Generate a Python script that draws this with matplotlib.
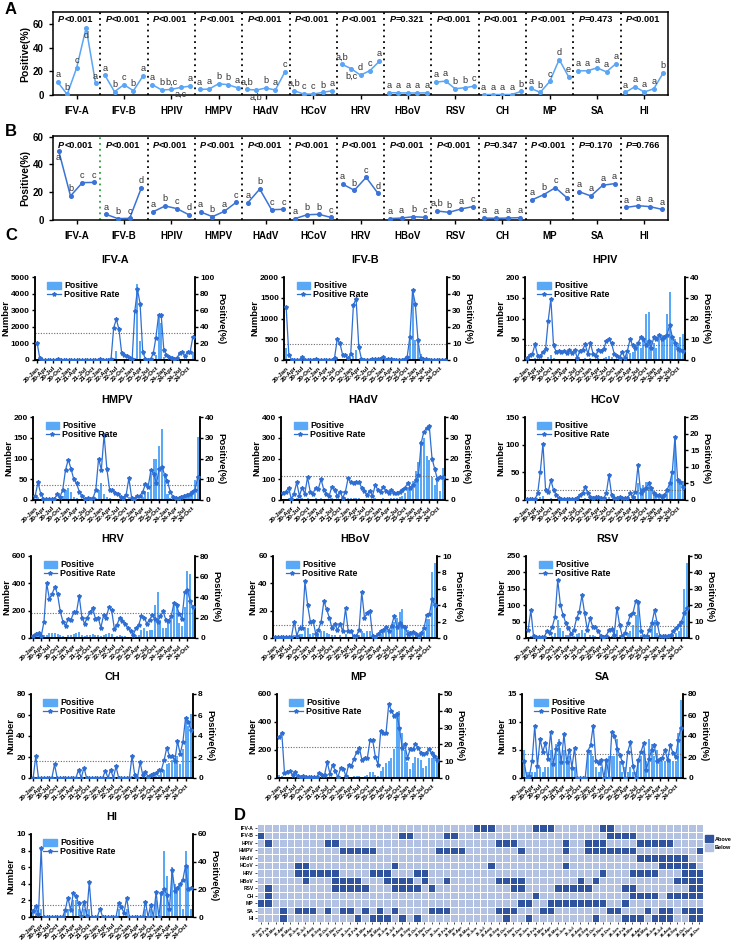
import numpy as np
import matplotlib.pyplot as plt
from matplotlib.colors import ListedColormap
from matplotlib.patches import Patch
from matplotlib.lines import Line2D

# ---------------------------------------------------------------- data
pathogens = ['IFV-A', 'IFV-B', 'HPIV', 'HMPV', 'HAdV', 'HCoV', 'HRV',
             'HBoV', 'RSV', 'CH', 'MP', 'SA', 'HI']

# Panel A (5 groups per pathogen)
vals_A = [[10.9, 0.5, 22.9, 56.7, 9.8], [16.5, 2.8, 8.7, 3.6, 15.9],
          [8.7, 4.2, 4.7, 6.4, 7.5], [4.7, 5.0, 9.5, 8.7, 6.1],
          [4.7, 4.2, 5.9, 4.2, 19.3], [3.6, 0.8, 0.8, 2.2, 3.6],
          [26.0, 22.3, 16.7, 20.6, 28.5], [2.0, 1.8, 1.7, 1.7, 1.8],
          [10.9, 11.7, 5.3, 6.1, 7.5], [0.4, 0.4, 0.4, 0.4, 3.1],
          [5.6, 2.2, 11.4, 29.9, 15.3], [20.4, 20.4, 22.9, 19.5, 26.5],
          [2.2, 7.0, 2.5, 5.3, 18.7]]
let_A = [['a', 'b', 'c', 'd', 'a'], ['a', 'b', 'c', 'b', 'a'],
         ['a', 'b', 'b,c', 'a,c', 'a'], ['a', 'a', 'b', 'b', 'a'],
         ['a,b', 'a,b', 'b', 'a', 'c'], ['a,b', 'c', 'c', 'b', 'a'],
         ['a,b', 'b,c', 'd', 'c', 'a'], ['a', 'a', 'a', 'a', 'a'],
         ['a', 'a', 'b', 'b', 'c'], ['a', 'a', 'a', 'a', 'b'],
         ['a', 'b', 'c', 'd', 'e'], ['a', 'a', 'a', 'a', 'a'],
         ['a', 'a', 'a', 'a', 'b']]
p_A = ['<0.001', '<0.001', '<0.001', '<0.001', '<0.001', '<0.001', '<0.001',
       '=0.321', '<0.001', '<0.001', '<0.001', '=0.473', '<0.001']
below_A = [(0, 3), (2, 3), (4, 1), (6, 1)]

# Panel B (4 groups per pathogen)
vals_B = [[49.9, 17.3, 26.9, 27.1], [4.1, 1.0, 1.2, 23.3],
          [6.0, 10.1, 8.2, 3.8], [5.8, 2.4, 6.2, 12.7],
          [12.5, 22.3, 7.4, 7.7], [1.0, 3.8, 4.1, 1.9],
          [25.9, 21.4, 30.7, 19.2], [1.0, 1.4, 2.4, 1.9],
          [6.5, 5.5, 7.9, 9.6], [1.4, 1.2, 1.4, 1.7],
          [14.4, 18.2, 23.3, 15.8], [20.4, 17.3, 25.0, 26.2],
          [9.1, 10.3, 9.6, 7.7]]
let_B = [['a', 'b', 'c', 'c'], ['a', 'b', 'c', 'd'], ['a', 'b', 'c', 'd'],
         ['a', 'b', 'a', 'c'], ['a', 'b', 'c', 'c'], ['a', 'b', 'b', 'c'],
         ['a', 'b', 'c', 'd'], ['a', 'a', 'b', 'c'], ['a,b', 'b', 'a', 'c'],
         ['a', 'a', 'a', 'a'], ['a', 'b', 'c', 'a'], ['a', 'a', 'a', 'a'],
         ['a', 'a', 'a', 'a']]
p_B = ['<0.001', '<0.001', '<0.001', '<0.001', '<0.001', '<0.001', '<0.001',
       '<0.001', '<0.001', '=0.347', '<0.001', '=0.170', '=0.766']
below_B = [(0, 0)]

# Panel C: monthly positives (n) and positive rate (r), Jan 2020 - Dec 2024
n_ifva = [50, 10, 0, 0, 0, 0, 0, 0, 10, 0, 0, 0, 0, 0, 0, 0, 0, 0, 0, 0,
          0, 0, 0, 0, 20, 0, 0, 0, 10, 100, 550, 80, 20, 10, 5, 5, 2, 150, 4550, 1150,
          60, 5, 2, 5, 40, 300, 2700, 2250, 200, 60, 30, 20, 10, 15, 50, 60, 40, 60, 80, 500]
r_ifva = [21, 2, 0.3, 0.3, 0.3, 0.3, 0.3, 0.3, 1, 0.3, 0.3, 0.3, 0.3, 0.3, 0.3, 0.3, 0.3, 0.3, 0.3, 0.3,
          0.3, 0.3, 0.3, 0.3, 1.2, 0.3, 0.3, 0.3, 1, 39, 49, 37, 9, 6, 5, 3, 1, 59, 85, 68,
          10, 1, 0.5, 1, 8, 27, 54, 54, 12, 6, 4, 3, 1, 2, 9, 10, 5, 10, 10, 28]
n_ifvb = [280, 20, 0, 0, 0, 0, 5, 0, 0, 0, 0, 0, 0, 0, 0, 0, 0, 0, 5, 40,
          30, 5, 5, 2, 10, 100, 250, 30, 2, 0, 0, 0, 0, 0, 2, 0, 5, 0, 0, 0,
          0, 0, 0, 0, 2, 20, 550, 1700, 480, 470, 150, 10, 5, 2, 2, 2, 2, 2, 2, 2]
r_ifvb = [32, 3, 0.3, 0.3, 0.3, 0.3, 2, 0.3, 0.3, 0.3, 0.3, 0.8, 0.3, 0.3, 0.3, 0.3, 0.3, 0.3, 1.5, 12.5,
          10, 3, 3, 1, 3.5, 33, 37, 8, 0.5, 0.3, 0.3, 0.3, 0.5, 0.5, 0.5, 0.5, 2, 0.3, 0.5, 0.5,
          0.3, 0.3, 0.3, 0.3, 0.5, 2, 14, 42, 34, 12, 1, 0.5, 0.5, 0.3, 0.3, 0.3, 0.3, 0.3, 0.3, 0.3]
n_hpiv = [2, 3, 3, 5, 2, 2, 3, 3, 8, 12, 5, 3, 3, 3, 3, 2, 3, 2, 3, 1,
          3, 3, 5, 2, 5, 2, 2, 4, 3, 4, 8, 10, 7, 3, 2, 1, 4, 2, 15, 18,
          20, 35, 40, 30, 45, 110, 115, 45, 40, 30, 55, 60, 60, 110, 165, 60, 50, 40, 55, 62]
r_hpiv = [1, 2.5, 3, 7.5, 2, 2, 4, 5.5, 19, 29.5, 7, 4, 4.5, 4, 4.5, 3.5, 5, 3.5, 5, 1,
          4.5, 5, 7.5, 3, 8, 3, 2, 5, 4.5, 5.5, 9, 10, 8, 3, 2, 1, 4, 1, 4.5, 10,
          7, 6, 8, 11, 10, 7, 9, 6, 11, 10, 12, 10, 11, 12, 17, 11, 8, 5.5, 5, 4.5]
n_hmpv = [3, 8, 3, 0, 0, 0, 0, 0, 3, 2, 10, 25, 30, 20, 8, 5, 3, 2, 1, 1,
          1, 1, 5, 25, 40, 15, 8, 4, 3, 3, 2, 1, 1, 2, 8, 1, 1, 3, 3, 8,
          20, 20, 65, 100, 98, 130, 172, 60, 15, 5, 3, 3, 3, 3, 5, 8, 10, 15, 47, 152]
r_hmpv = [2, 8.5, 3, 0.5, 0.5, 0.5, 0.5, 0.5, 3, 1.5, 5, 14.5, 19.5, 15, 10, 8, 4, 2, 0.5, 1,
          0.5, 1, 5, 20, 14.5, 31.5, 15, 5, 5, 3.5, 3, 1.5, 1, 2.5, 10.5, 1, 0.5, 2, 2, 4,
          7.5, 6.5, 14.5, 12.5, 8, 15, 16, 12, 9, 4, 1.5, 1, 1, 1.5, 2, 2.5, 3, 4, 5, 11]
n_hadv = [5, 5, 8, 0, 3, 10, 3, 8, 4, 12, 5, 4, 8, 6, 12, 6, 4, 3, 8, 6,
          3, 5, 2, 5, 12, 10, 9, 10, 10, 7, 5, 3, 5, 2, 8, 6, 5, 8, 6, 5,
          10, 10, 10, 15, 20, 35, 55, 50, 90, 140, 185, 285, 300, 210, 195, 110, 70, 95, 45, 155]
r_hadv = [3.5, 4, 6, 0.5, 3, 8.5, 2, 6, 3, 11, 4, 3, 6, 5.5, 10, 5, 3, 2, 6.5, 5,
          2, 4, 1, 4, 10.5, 8.5, 8, 8.5, 8.5, 6, 4.5, 2.5, 4.5, 2, 7, 5, 4, 6.5, 4.5, 3.5,
          5, 3.5, 3.5, 4, 5, 6, 8, 6, 7, 9.5, 12, 27.5, 33, 34.5, 35.5, 20, 15, 10, 11, 11]
n_hcov = [0, 0, 0, 0, 1, 5, 8, 2, 1, 3, 1, 1, 0, 0, 0, 0, 0, 0, 0, 0,
          1, 1, 3, 1, 1, 0, 1, 1, 0, 0, 1, 5, 1, 0, 0, 1, 0, 0, 0, 2,
          1, 8, 30, 22, 28, 32, 25, 18, 10, 8, 6, 5, 8, 22, 30, 50, 110, 38, 37, 35]
r_hcov = [0.3, 0.3, 0.3, 0.3, 2, 8.5, 17, 3, 2.5, 6, 3, 1.5, 0.5, 0.3, 0.3, 0.3, 0.3, 0.3, 0.3, 0.5,
          1.5, 2, 4, 2, 1, 0.5, 1, 1, 0.5, 0.5, 2, 7.5, 1.5, 0.5, 0.5, 1, 0.5, 0.5, 0.5, 2,
          1, 2.5, 10.5, 2, 3, 3.5, 5, 3.5, 2, 1.5, 1.5, 1, 1.5, 3, 5, 8.5, 19, 6, 5.5, 4]
n_hrv = [10, 15, 20, 10, 20, 25, 40, 35, 38, 30, 25, 15, 10, 20, 25, 30, 35, 45, 25, 15,
         20, 25, 30, 20, 25, 15, 25, 30, 35, 30, 10, 15, 20, 15, 12, 10, 10, 5, 20, 25,
         60, 70, 50, 55, 60, 240, 340, 130, 75, 70, 125, 160, 250, 255, 110, 90, 225, 490, 470, 240]
r_hrv = [2, 4, 5, 2, 16, 53.5, 38, 43, 50, 43, 26, 16, 12, 19, 18, 25, 25, 41, 20, 14,
         20, 25, 29, 19, 20, 10, 22, 20, 30, 27, 9, 13, 20, 17, 14, 10, 7, 3, 10, 13,
         21, 20, 14, 18, 22, 19, 16, 21, 26, 18, 17, 21, 34, 32, 23, 19, 45, 47, 36, 30]
n_hbov = [0, 0, 0, 0, 0, 0, 0, 2, 1, 3, 3, 8, 7, 3, 4, 2, 3, 5, 5, 4,
          3, 2, 2, 1, 2, 1, 3, 1, 1, 0, 0, 2, 5, 4, 5, 5, 1, 0, 1, 3,
          5, 8, 6, 10, 12, 15, 19, 21, 8, 6, 5, 3, 3, 1, 2, 5, 14, 14, 48, 55]
r_hbov = [0.1, 0.1, 0.1, 0.1, 0.1, 0.1, 0.1, 2, 0.3, 1.2, 1.2, 6.9, 4, 2, 2.1, 0.5, 1, 2, 4.5, 3.5,
          2.5, 1.2, 1.7, 1, 1.7, 0.8, 3.6, 0.8, 0.8, 0.2, 0.2, 1, 5.6, 2.5, 3, 3.3, 0.2, 0.1, 0.5, 0.8,
          1, 1.3, 0.9, 1.5, 2.7, 1.3, 1.8, 1.5, 1.3, 0.5, 0.6, 0.7, 0.5, 0.2, 0.6, 1.2, 2.8, 2.9, 4.7, 4]
n_rsv = [3, 5, 1, 0, 0, 0, 0, 2, 1, 5, 15, 55, 30, 20, 10, 8, 3, 5, 12, 15,
         25, 15, 4, 10, 8, 7, 3, 1, 0, 1, 5, 5, 2, 25, 10, 1, 3, 15, 20, 40,
         70, 110, 10, 2, 1, 10, 50, 55, 15, 2, 2, 3, 3, 5, 10, 15, 20, 30, 150, 228]
r_rsv = [5, 17, 1, 0.5, 0.5, 0.5, 0.5, 4.5, 3, 7, 13, 35.5, 20, 14, 9, 6, 2.5, 5, 12, 16,
         26, 15, 5, 12, 7, 7, 4, 1.5, 0.5, 1, 5, 5.5, 2, 18.5, 8, 1, 3, 9, 14, 15.5,
         22.5, 22, 4, 1, 1, 5, 9, 17, 9, 1, 1, 1.5, 1.5, 2, 4, 6, 8, 10, 15, 18]
n_ch = [0, 1, 0, 0, 0, 0, 0, 0, 1, 0, 0, 0, 0, 0, 0, 0, 0, 1, 0, 1,
        0, 0, 0, 0, 0, 0, 0, 1, 0, 1, 0, 1, 0, 0, 0, 0, 0, 2, 0, 0,
        1, 0, 1, 0, 1, 2, 2, 3, 5, 8, 13, 14, 17, 19, 21, 13, 28, 55, 50, 61]
r_ch = [0, 2.1, 0, 0, 0, 0, 0, 0, 1.3, 0, 0, 0, 0, 0, 0, 0, 0, 0.8, 0, 1,
        0, 0, 0, 0, 0, 0, 0, 0.7, 0, 0.8, 0, 1.1, 0, 0, 0, 0, 0, 2.1, 0.3, 0,
        1.5, 0.3, 0.6, 0.1, 0.3, 0.4, 0.5, 0.8, 0.8, 1.7, 2.9, 2.1, 2.1, 1.6, 3.5, 2.3, 3.4, 5.7, 5.3, 4.6]
n_mp = [25, 15, 3, 3, 2, 1, 2, 1, 0, 1, 0, 0, 0, 0, 0, 2, 2, 2, 8, 2,
        6, 3, 0, 5, 5, 1, 8, 8, 12, 15, 15, 10, 12, 20, 40, 45, 25, 15, 50, 80,
        110, 125, 140, 210, 470, 480, 320, 200, 115, 65, 110, 150, 140, 130, 75, 85, 140, 140, 145, 160]
r_mp = [24.5, 26.5, 3, 3.5, 4, 2, 3.5, 1, 0.5, 1, 0.5, 0.5, 0.5, 0.5, 0.5, 3, 2, 2, 9.5, 2.5,
        8, 4, 0.5, 6, 5.5, 1, 8, 7, 11.5, 15.5, 18, 10.5, 12, 12, 22.5, 22.5, 12.5, 8, 28, 27,
        27, 44, 40, 37, 38, 30, 18, 20, 12, 17, 17, 20.5, 18, 15, 14, 15, 17, 15, 13, 11]
n_sa = [5, 1, 1, 1, 1, 2, 2, 1, 2, 2, 5, 3, 6, 7, 4, 5, 3, 4, 2, 2,
        0, 0, 0, 0, 5, 5, 4, 2, 1, 2, 0, 3, 4, 4, 4, 7, 3, 1, 2, 1,
        2, 1, 1, 3, 4, 5, 3, 7, 6, 4, 5, 3, 3, 3, 3, 3, 3, 3, 8, 14]
r_sa = [16, 0, 2, 16, 50, 11, 37, 25, 33, 18, 44, 13, 28, 33, 15, 42, 15, 27, 10, 29,
        0, 0, 0, 0, 26, 31, 50, 16, 14, 17, 0, 17, 0, 44, 40, 28, 22, 15, 0, 25,
        34, 11, 0, 17, 25, 33, 8, 18, 27, 31, 16, 18, 19, 27, 17, 31, 24, 20, 36, 48]
n_hi = [1, 1, 0, 1, 0, 0, 0, 0, 0, 0, 0, 0, 1, 1, 0, 2, 2, 1, 0, 1,
        0, 1, 0, 0, 0, 0, 0, 0, 0, 0, 0, 0, 1, 0, 0, 1, 0, 0, 0, 0,
        0, 0, 1, 0, 1, 0, 2, 0, 3, 8, 5, 1, 6, 4, 3, 4, 1, 8, 6, 1]
r_hi = [4, 8, 2, 50, 0, 0, 0, 0, 0, 0, 0, 0, 5, 14, 5, 17, 15, 10, 1, 11,
        1, 25, 0, 0, 0, 6, 0, 0, 0, 0, 0, 0, 10, 7, 3, 14, 0, 0, 0, 0,
        0, 0, 11, 0, 9, 0, 18, 0, 17, 20, 16, 6, 34, 19, 21, 24, 27, 37, 20, 21]

# axis maxima / steps (left count axis, right rate axis) and mean reference line
c_nmax = [5000, 2000, 200, 200, 400, 150, 600, 60, 250, 80, 600, 15, 10]
c_nstep = [1000, 500, 50, 50, 100, 50, 200, 20, 50, 20, 200, 5, 2]
c_rmax = [100, 50, 40, 40, 40, 25, 80, 10, 50, 8, 50, 80, 60]
c_rstep = [20, 10, 10, 10, 10, 5, 20, 2, 10, 2, 10, 20, 20]
c_ref = [1600, 380, 35, 36, 118, 18, 180, 9.5, 37, 16, 225, 4.2, 1.5]

# Panel D: months above the mean positive rate
above_ifva = [29, 30, 31, 37, 38, 39, 46, 47]
above_ifvb = [0, 19, 20, 25, 26, 47, 48, 49, 50]
above_hpiv = [1, 9, 10, 32, 33, 34, 41, 44, 45, 46, 51, 52, 53, 54, 55]
above_hmpv = [11, 12, 13, 14, 15, 24, 25, 26, 27, 35, 41, 44, 45, 46, 47, 48, 49, 50, 59]
above_hadv = [51, 52, 53, 54, 55, 56, 57]
above_hcov = [5, 6, 18, 31, 41, 54, 55, 56, 57, 58]
above_hrv = [5, 6, 7, 8, 9, 10, 15, 16, 17, 21, 22, 46, 50, 51, 52, 53, 57, 58, 59]
above_hbov = [6, 10, 11, 12, 13, 17, 18, 19, 20, 22, 25, 32, 33, 34, 35, 43, 45, 56, 57, 58, 59]
above_rsv = [1, 10, 11, 12, 13, 14, 18, 19, 20, 21, 23, 34, 35, 40, 41, 42, 43, 44, 49, 50, 58, 59]
above_ch = [1, 37, 50, 51, 52, 53, 55, 56, 57, 58, 59]
above_mp = [0, 1, 35, 36, 39, 40, 41, 42, 43, 44, 45, 46, 49]
above_sa = [3, 5, 6, 7, 9, 11, 12, 14, 16, 18, 23, 24, 25, 32, 33, 34, 38, 39, 47, 48, 52, 54, 55, 57, 58, 59]
above_hi = [3, 13, 15, 16, 17, 19, 21, 33, 36, 45, 49, 50, 51, 53, 54, 55, 58, 59]

years = ['20', '21', '22', '23', '24']
months = ['Jan', 'Feb', 'Mar', 'Apr', 'May', 'Jun', 'Jul', 'Aug', 'Sep', 'Oct', 'Nov', 'Dec']

# ---------------------------------------------------------------- style
plt.rcParams['font.family'] = ['Liberation Sans', 'DejaVu Sans']
plt.rcParams['font.weight'] = 'bold'
plt.rcParams['axes.labelweight'] = 'bold'
plt.rcParams['axes.linewidth'] = 1.1
plt.rcParams['xtick.major.width'] = 1.0
plt.rcParams['ytick.major.width'] = 1.0
plt.rcParams['xtick.major.size'] = 3
plt.rcParams['ytick.major.size'] = 3

colA = '#5AA5F5'
colB = '#3A72D6'
bar_c = '#5AA9F7'
line_c = '#2F6ED2'
dark_c = '#30539F'
light_c = '#B3C1E3'

W, H = 737, 942
fig = plt.figure(figsize=(W / 100, H / 100), dpi=100)


def px_axes(x0, y0, x1, y1):
    return fig.add_axes([x0 / W, 1 - y1 / H, (x1 - x0) / W, (y1 - y0) / H])


def group_panel(ax, vals, lets, pvals, below, color, ylim, ptext_y, sep_colors):
    npt = len(vals[0])
    step = 0.2 if npt == 5 else 0.25
    start = 0.1 if npt == 5 else 0.12
    for g in range(len(vals)):
        xs = g + start + step * np.arange(npt)
        ax.plot(xs, vals[g], '-o', color=color, ms=2.6, lw=1.1, zorder=3)
        for k in range(npt):
            if (g, k) in below:
                ax.annotate(lets[g][k], (xs[k], vals[g][k]), xytext=(0, -2),
                            textcoords='offset points', ha='center', va='top',
                            fontsize=6.6, fontweight='normal', color='#333333')
            else:
                ax.annotate(lets[g][k], (xs[k], vals[g][k]), xytext=(0, 2),
                            textcoords='offset points', ha='center', va='bottom',
                            fontsize=6.6, fontweight='normal', color='#333333')
        ax.text(g + 0.5 - 0.26, ptext_y, 'P', style='italic', ha='right',
                va='center', fontsize=6.6, fontweight='bold')
        ax.text(g + 0.5 - 0.26, ptext_y, pvals[g], ha='left', va='center',
                fontsize=6.6, fontweight='bold')
    for g in range(1, len(vals)):
        ax.axvline(g, color=sep_colors[g], ls=(0, (1, 2.2)), lw=1.3, zorder=1)
    ax.set_xlim(0, len(vals))
    ax.set_ylim(*ylim)
    ax.set_xticks(np.arange(len(vals)) + 0.5)
    ax.set_xticklabels(pathogens, fontsize=7)
    ax.set_yticks([0, 20, 40, 60])
    ax.tick_params(axis='y', labelsize=7)
    ax.tick_params(axis='x', pad=5)
    ax.set_ylabel('Positive(%)', fontsize=7.5, labelpad=2)


# Panel A
axA = px_axes(53, 12, 668, 95)
group_panel(axA, vals_A, let_A, p_A, below_A, colA, (0, 70), 63.5, ['k'] * 13)

# Panel B
axB = px_axes(53, 136, 668, 220)
sepB = ['k'] * 13
sepB[1] = '#2E9E3E'
group_panel(axB, vals_B, let_B, p_B, below_B, colB, (0, 60.5), 54, sepB)

# Panel C
c_n = [n_ifva, n_ifvb, n_hpiv, n_hmpv, n_hadv, n_hcov, n_hrv, n_hbov,
       n_rsv, n_ch, n_mp, n_sa, n_hi]
c_r = [r_ifva, r_ifvb, r_hpiv, r_hmpv, r_hadv, r_hcov, r_hrv, r_hbov,
       r_rsv, r_ch, r_mp, r_sa, r_hi]
c_boxes = [(35, 277, 195, 360), (284, 277, 447, 360), (525, 277, 685, 360),
           (33, 417, 200, 500), (281, 417, 445, 500), (525, 417, 685, 500),
           (31, 556, 195, 638), (273, 556, 437, 638), (526, 556, 689, 638),
           (31, 694, 193, 778), (277, 694, 439, 778), (522, 694, 683, 778),
           (31, 834, 193, 917)]

months_x = np.arange(60)
q_labels = [f'{y}-{m}' for y in years for m in ['Jan', 'Apr', 'Jul', 'Oct']]

for i, name in enumerate(pathogens):
    ax = px_axes(*c_boxes[i])
    ax.bar(months_x, c_n[i], width=0.75, color=bar_c, zorder=1)
    ax.axhline(c_ref[i], color='#6b6b6b', ls=(0, (1, 1.4)), lw=0.8, zorder=2)
    ax.set_ylim(0, c_nmax[i])
    ax.set_yticks(np.arange(0, c_nmax[i] + 1, c_nstep[i]))
    ax.set_xlim(-0.8, 59.8)
    ax.set_xticks(np.arange(0, 60, 3))
    ax.set_xticklabels(q_labels, rotation=45, ha='right', rotation_mode='anchor',
                       fontsize=4.6)
    ax.tick_params(axis='x', pad=1.5, length=2.5)
    ax.tick_params(axis='y', labelsize=6.0, pad=1.2, length=2.5)
    ax.spines['top'].set_visible(False)
    ax.set_ylabel('Number', fontsize=6.8, labelpad=0.5)
    ax.set_title(name, fontsize=7.8, fontweight='bold', pad=10)

    ax2 = ax.twinx()
    ax2.plot(months_x, c_r[i], '-', marker='*', ms=3, color=line_c, lw=0.9, zorder=3)
    ax2.set_ylim(0, c_rmax[i])
    ax2.set_yticks(np.arange(0, c_rmax[i] + 0.1, c_rstep[i]))
    ax2.tick_params(axis='y', labelsize=6.0, pad=1.2, length=2.5)
    ax2.spines['top'].set_visible(False)
    ax2.set_ylabel('Positive(%)', fontsize=6.8, rotation=270, labelpad=8)

    handles = [Patch(color=bar_c, label='Positive'),
               Line2D([], [], color=line_c, marker='*', ms=3, lw=0.9, label='Positive Rate')]
    ax2.legend(handles=handles, loc='upper left', bbox_to_anchor=(0.05, 1.0),
               frameon=False, fontsize=6.3, handlelength=1.5, handleheight=0.9,
               labelspacing=0.0, handletextpad=0.4, borderaxespad=0.1)

# Panel D heatmap
above_rows = [above_ifva, above_ifvb, above_hpiv, above_hmpv, above_hadv, above_hcov,
              above_hrv, above_hbov, above_rsv, above_ch, above_mp, above_sa, above_hi]
heat = np.zeros((len(pathogens), 60))
for i, cols in enumerate(above_rows):
    heat[i, cols] = 1

axD = px_axes(257, 824, 703, 922)
axD.pcolormesh(heat, cmap=ListedColormap([light_c, dark_c]), edgecolors='white',
               linewidth=0.6, vmin=0, vmax=1)
axD.set_xlim(0, 60)
axD.set_ylim(len(pathogens), 0)
axD.set_yticks(np.arange(len(pathogens)) + 0.5)
axD.set_yticklabels(pathogens, fontsize=3.6)
axD.set_xticks(np.arange(60) + 0.5)
axD.set_xticklabels([f'{y}-{m}' for y in years for m in months], rotation=45,
                    ha='right', rotation_mode='anchor', fontsize=3.0)
axD.tick_params(length=1.5, width=0.5, pad=1)
for s in axD.spines.values():
    s.set_visible(False)
axD.legend(handles=[Patch(color=dark_c, label='Above'), Patch(color=light_c, label='Below')],
           loc='upper left', bbox_to_anchor=(1.0, 0.9), frameon=False, fontsize=4.0,
           handlelength=1.5, handleheight=1.5, labelspacing=0.3, handletextpad=0.3,
           borderpad=0.1, borderaxespad=0.2)

# panel letters
for lab, x, y in [('A', 11, 10), ('B', 11, 132), ('C', 11, 236), ('D', 240, 815)]:
    fig.text(x / W, 1 - y / H, lab, fontsize=12, fontweight='bold', ha='center', va='center')

plt.savefig('out.png', dpi=100)
